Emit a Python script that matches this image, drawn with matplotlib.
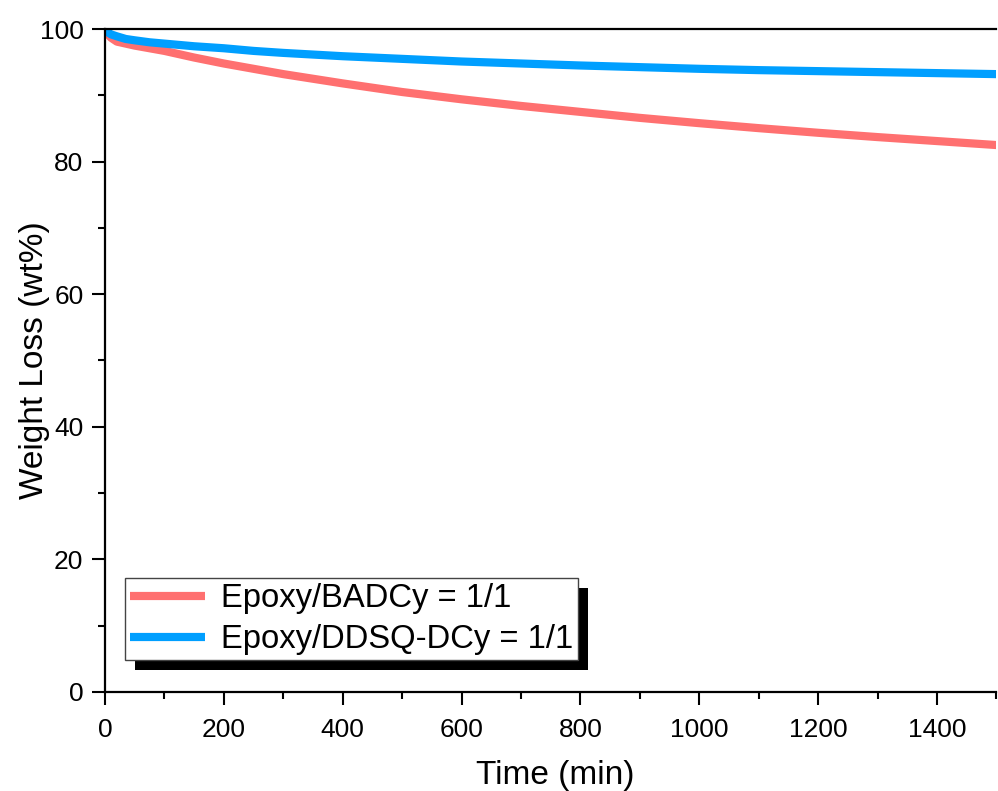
import numpy as np
import matplotlib
matplotlib.use('Agg')
import matplotlib.pyplot as plt
import matplotlib.patheffects as pe
from matplotlib.ticker import MultipleLocator

plt.rcParams['font.family'] = ['Liberation Sans', 'DejaVu Sans']

# Данные
time = [0, 5, 10, 20, 35, 50, 75, 100, 150, 200, 250, 300, 400, 500,
        600, 700, 800, 900, 1000, 1100, 1200, 1300, 1400, 1500]
badcy = [100, 99.2, 98.7, 98.1, 97.8, 97.5, 97.1, 96.7, 95.7, 94.8, 94.0,
         93.2, 91.8, 90.5, 89.4, 88.4, 87.5, 86.6, 85.8, 85.05, 84.35, 83.7,
         83.1, 82.5]
ddsq = [100, 99.5, 99.2, 98.9, 98.5, 98.3, 98.0, 97.8, 97.4, 97.1, 96.7,
        96.4, 95.9, 95.5, 95.1, 94.8, 94.5, 94.25, 94.0, 93.8, 93.65, 93.5,
        93.35, 93.2]
labels = ['Epoxy/BADCy = 1/1', 'Epoxy/DDSQ-DCy = 1/1']
colors = ['#FF7070', '#009FFF']

fig = plt.figure(figsize=(9.98, 7.91), dpi=100)
ax = fig.add_axes([0.1052, 0.1252, 0.8932, 0.8381])

ax.plot(time, badcy, color=colors[0], lw=5.9, label=labels[0], solid_capstyle='butt')
ax.plot(time, ddsq, color=colors[1], lw=5.9, label=labels[1], solid_capstyle='butt')

ax.set_xlim(0, 1500)
ax.set_ylim(0, 100)
ax.xaxis.set_major_locator(MultipleLocator(200))
ax.xaxis.set_minor_locator(MultipleLocator(100))
ax.yaxis.set_major_locator(MultipleLocator(20))
ax.yaxis.set_minor_locator(MultipleLocator(10))
ax.tick_params(which='major', direction='out', length=9.5, width=1.5, labelsize=19)
ax.tick_params(which='minor', direction='out', length=5, width=1.5)
ax.tick_params(axis='x', pad=9.5)
ax.tick_params(axis='y', pad=6)
ax.tick_params(top=False, right=False, which='both')

for s in ['left', 'bottom', 'top']:
    ax.spines[s].set_linewidth(1.6)
ax.spines['right'].set_visible(False)

ax.set_xlabel('Time (min)', fontsize=24)
ax.set_ylabel('Weight Loss (wt%)', fontsize=24)
ax.xaxis.set_label_coords(0.505, -0.103)
ax.yaxis.set_label_coords(-0.0617, 0.5)

leg = ax.legend(loc='lower left', bbox_to_anchor=(0.022, 0.048), borderaxespad=0,
                fontsize=23.6, frameon=True, fancybox=False, handlelength=2.3,
                handletextpad=0.5, labelspacing=0.3, borderpad=0.15)
frame = leg.get_frame()
frame.set_edgecolor('#444444')
frame.set_linewidth(1.0)
frame.set_alpha(1)
frame.set_path_effects([pe.SimplePatchShadow(offset=(7.2, -7.2), shadow_rgbFace='black', alpha=1),
                        pe.Normal()])
for line in leg.get_lines():
    line.set_linewidth(5.9)

fig.savefig('out.png', dpi=100)
